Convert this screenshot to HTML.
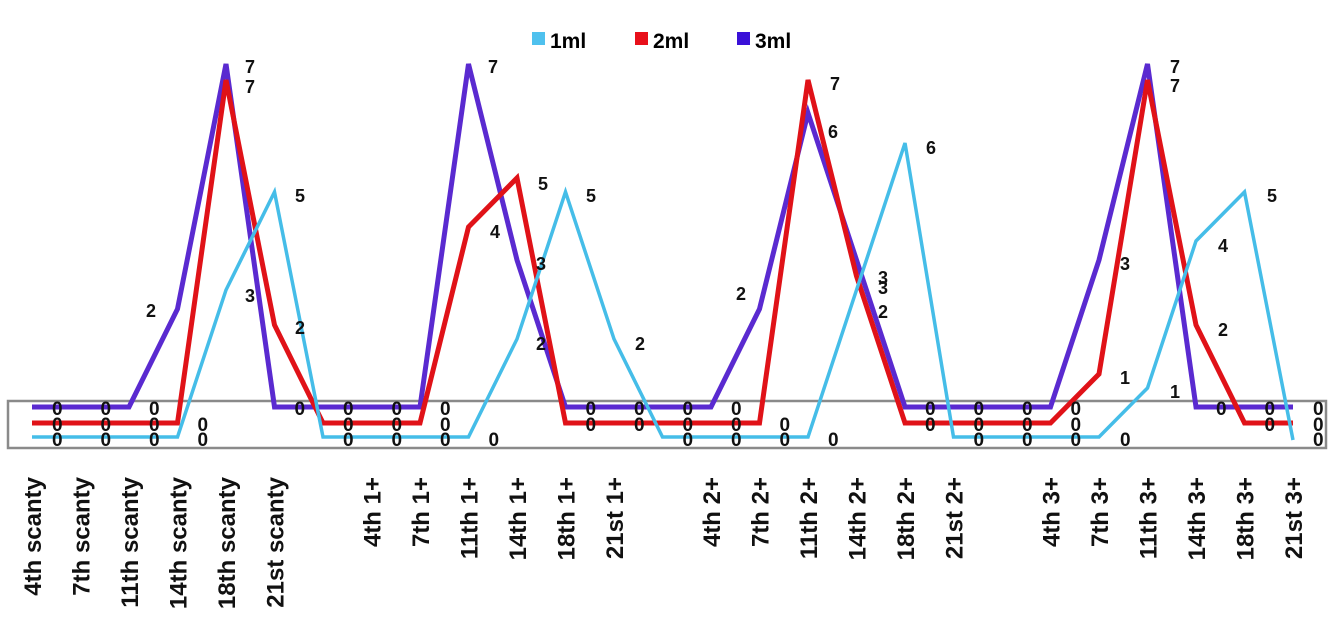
<!DOCTYPE html>
<html><head><meta charset="utf-8"><style>
html,body{margin:0;padding:0;background:#fff;}
svg{display:block;font-family:"Liberation Sans",sans-serif;font-weight:bold;}
</style></head><body>
<svg width="1334" height="626" viewBox="0 0 1334 626" xmlns="http://www.w3.org/2000/svg">
<rect x="8" y="401" width="1318" height="47" fill="none" stroke="#8a8a8a" stroke-width="2.5"/>
<!-- legend -->
<rect x="532" y="32" width="13" height="13" fill="#4fc1ee"/>
<text x="550" y="48" font-size="21">1ml</text>
<rect x="635" y="32" width="13" height="13" fill="#e8101a"/>
<text x="653" y="48" font-size="21">2ml</text>
<rect x="737" y="32" width="13" height="13" fill="#3a10d8"/>
<text x="755" y="48" font-size="21">3ml</text>
<!-- series -->
<polyline fill="none" stroke="#5a2ad0" stroke-width="5" stroke-linejoin="miter" points="32,407 80.5,407 129,407 177.5,309 226,64 274.5,407 323,407 371.5,407 420,407 468.5,64 517,260 565.5,407 614,407 662.5,407 711,407 759.5,309 808,113 856.5,260 905,407 953.5,407 1002,407 1050.5,407 1099,260 1147.5,64 1196,407 1244.5,407 1293,407"/>
<polyline fill="none" stroke="#e01218" stroke-width="5" points="32,423 80.5,423 129,423 177.5,423 226,80 274.5,325 323,423 371.5,423 420,423 468.5,227 517,178 565.5,423 614,423 662.5,423 711,423 759.5,423 808,80 856.5,276 905,423 953.5,423 1002,423 1050.5,423 1099,374 1147.5,80 1196,325 1244.5,423 1293,423"/>
<polyline fill="none" stroke="#45bde8" stroke-width="3.5" points="32,437 80.5,437 129,437 177.5,437 226,290 274.5,192 323,437 371.5,437 420,437 468.5,437 517,339 565.5,192 614,339 662.5,437 711,437 759.5,437 808,437 856.5,290 905,143 953.5,437 1002,437 1050.5,437 1099,437 1147.5,388 1196,241 1244.5,192 1293,440"/>
<!-- zero labels -->
<g font-size="19" fill="#111">
<text x="52 100.5 149 294.5 343 391.5 440 585.5 634 682.5 731 925 973.5 1022 1070.5 1216 1264.5 1313" y="415">000000000000000000</text>
<text x="52 100.5 149 197.5 343 391.5 440 585.5 634 682.5 731 779.5 925 973.5 1022 1070.5 1264.5 1313" y="431">000000000000000000</text>
<text x="52 100.5 149 197.5 343 391.5 440 488.5 682.5 731 779.5 828 973.5 1022 1070.5 1120 1313" y="446">00000000000000000</text>
</g>
<g font-size="18" fill="#111">
<text x="245" y="73">7</text><text x="245" y="93">7</text>
<text x="245" y="302">3</text><text x="295" y="202">5</text><text x="295" y="334">2</text>
<text x="146" y="317">2</text>
<text x="488" y="73">7</text><text x="490" y="238">4</text><text x="538" y="190">5</text>
<text x="536" y="270">3</text><text x="536" y="350">2</text>
<text x="586" y="202">5</text><text x="635" y="350">2</text>
<text x="736" y="300">2</text>
<text x="830" y="90">7</text><text x="828" y="138">6</text>
<text x="878" y="284">3</text><text x="878" y="294">3</text><text x="878" y="318">2</text>
<text x="926" y="154">6</text>
<text x="1120" y="270">3</text><text x="1120" y="384">1</text>
<text x="1170" y="73">7</text><text x="1170" y="92">7</text>
<text x="1170" y="398">1</text>
<text x="1218" y="252">4</text><text x="1218" y="336">2</text>
<text x="1267" y="202">5</text>
</g>
<!-- x labels -->
<g font-size="24" fill="#111" text-anchor="end">
<text transform="translate(41,477) rotate(-90)">4th scanty</text>
<text transform="translate(89.5,477) rotate(-90)">7th scanty</text>
<text transform="translate(138,477) rotate(-90)">11th scanty</text>
<text transform="translate(186.5,477) rotate(-90)">14th scanty</text>
<text transform="translate(235,477) rotate(-90)">18th scanty</text>
<text transform="translate(283.5,477) rotate(-90)">21st scanty</text>
<text transform="translate(380.5,477) rotate(-90)">4th 1+</text>
<text transform="translate(429,477) rotate(-90)">7th 1+</text>
<text transform="translate(477.5,477) rotate(-90)">11th 1+</text>
<text transform="translate(526,477) rotate(-90)">14th 1+</text>
<text transform="translate(574.5,477) rotate(-90)">18th 1+</text>
<text transform="translate(623,477) rotate(-90)">21st 1+</text>
<text transform="translate(720,477) rotate(-90)">4th 2+</text>
<text transform="translate(768.5,477) rotate(-90)">7th 2+</text>
<text transform="translate(817,477) rotate(-90)">11th 2+</text>
<text transform="translate(865.5,477) rotate(-90)">14th 2+</text>
<text transform="translate(914,477) rotate(-90)">18th 2+</text>
<text transform="translate(962.5,477) rotate(-90)">21st 2+</text>
<text transform="translate(1059.5,477) rotate(-90)">4th 3+</text>
<text transform="translate(1108,477) rotate(-90)">7th 3+</text>
<text transform="translate(1156.5,477) rotate(-90)">11th 3+</text>
<text transform="translate(1205,477) rotate(-90)">14th 3+</text>
<text transform="translate(1253.5,477) rotate(-90)">18th 3+</text>
<text transform="translate(1302,477) rotate(-90)">21st 3+</text>
</g>
</svg>
</body></html>
